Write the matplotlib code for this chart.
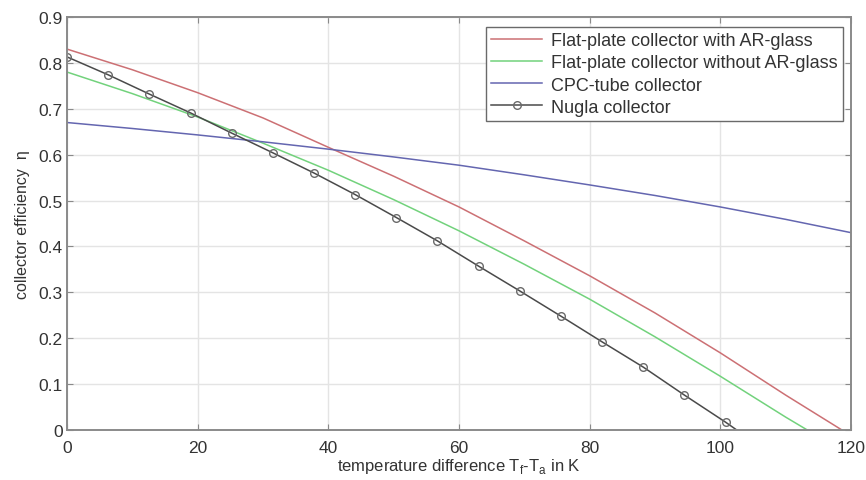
import matplotlib
matplotlib.use("Agg")
import matplotlib.pyplot as plt

plt.rcParams['font.family'] = ['Liberation Sans', 'DejaVu Sans']

# temperature difference (K) and efficiency values
dt_flat_ar = [0, 10, 20, 30, 40, 50, 60, 70, 80, 90, 100, 110, 118.6]
eta_flat_ar = [0.830, 0.785, 0.735, 0.680, 0.616, 0.553, 0.486, 0.412, 0.336, 0.255, 0.168, 0.076, 0.0]

dt_flat = [0, 10, 20, 30, 40, 50, 60, 70, 80, 90, 100, 110, 113.3]
eta_flat = [0.780, 0.733, 0.682, 0.625, 0.566, 0.502, 0.434, 0.361, 0.285, 0.203, 0.117, 0.028, 0.0]

dt_cpc = [0, 10, 20, 30, 40, 50, 60, 70, 80, 90, 100, 110, 120]
eta_cpc = [0.670, 0.657, 0.643, 0.628, 0.612, 0.595, 0.577, 0.556, 0.534, 0.511, 0.486, 0.459, 0.430]

dt_nugla = [0, 6.3, 12.6, 18.9, 25.2, 31.5, 37.8, 44.1, 50.4, 56.7, 63.0, 69.3, 75.6,
            81.9, 88.2, 94.5, 100.8, 102.5]
eta_nugla = [0.813, 0.774, 0.732, 0.691, 0.647, 0.604, 0.560, 0.513, 0.463, 0.412, 0.357,
             0.303, 0.248, 0.192, 0.137, 0.076, 0.017, 0.0]

fig = plt.figure(figsize=(8.66, 4.81), dpi=100)
ax = fig.add_axes([0.0774, 0.104, 0.9053, 0.8586])

ax.plot(dt_flat_ar, eta_flat_ar, color='#cc7074', lw=1.1, label='Flat-plate collector with AR-glass')
ax.plot(dt_flat, eta_flat, color='#72d27c', lw=1.1, label='Flat-plate collector without AR-glass')
ax.plot(dt_cpc, eta_cpc, color='#6466b0', lw=1.1, label='CPC-tube collector')
ax.plot(dt_nugla, eta_nugla, color='#4a4a4a', lw=1.1, marker='o', ms=5.5,
        mfc='none', mec='#6a6a6a', mew=1.0, markevery=list(range(len(dt_nugla) - 1)),
        label='Nugla collector')

ax.set_xlim(0, 120)
ax.set_ylim(0, 0.9)
ax.set_xticks([0, 20, 40, 60, 80, 100, 120])
ax.set_yticks([0, 0.1, 0.2, 0.3, 0.4, 0.5, 0.6, 0.7, 0.8, 0.9])
ax.set_yticklabels(['0', '0.1', '0.2', '0.3', '0.4', '0.5', '0.6', '0.7', '0.8', '0.9'])

ax.grid(True, color='#e4e4e4', lw=1.0)
ax.set_axisbelow(True)
for s in ax.spines.values():
    s.set_color('#8a8a8a')
    s.set_linewidth(1.4)
ax.tick_params(direction='in', length=4, color='#8a8a8a', top=True, right=True,
               labelsize=12.5, labelcolor='#333333')
ax.tick_params(axis='x', pad=7)
ax.tick_params(axis='y', pad=3)

ax.set_xlabel('temperature difference T$_\\mathregular{f}$-T$_\\mathregular{a}$ in K',
              fontsize=12, color='#333333', labelpad=1)
ax.set_ylabel('collector efficiency  \u03b7', fontsize=11.5, color='#333333', labelpad=6)

leg = ax.legend(loc='upper right', bbox_to_anchor=(0.9898, 0.9758), fontsize=13,
                frameon=True, fancybox=False, edgecolor='#6a6a6a', framealpha=1,
                handlelength=2.8, handletextpad=0.5, labelspacing=0.28,
                borderpad=0.3, borderaxespad=0)
leg.get_frame().set_linewidth(1.0)
for t in leg.get_texts():
    t.set_color('#333333')

fig.savefig('out.png', dpi=100)
